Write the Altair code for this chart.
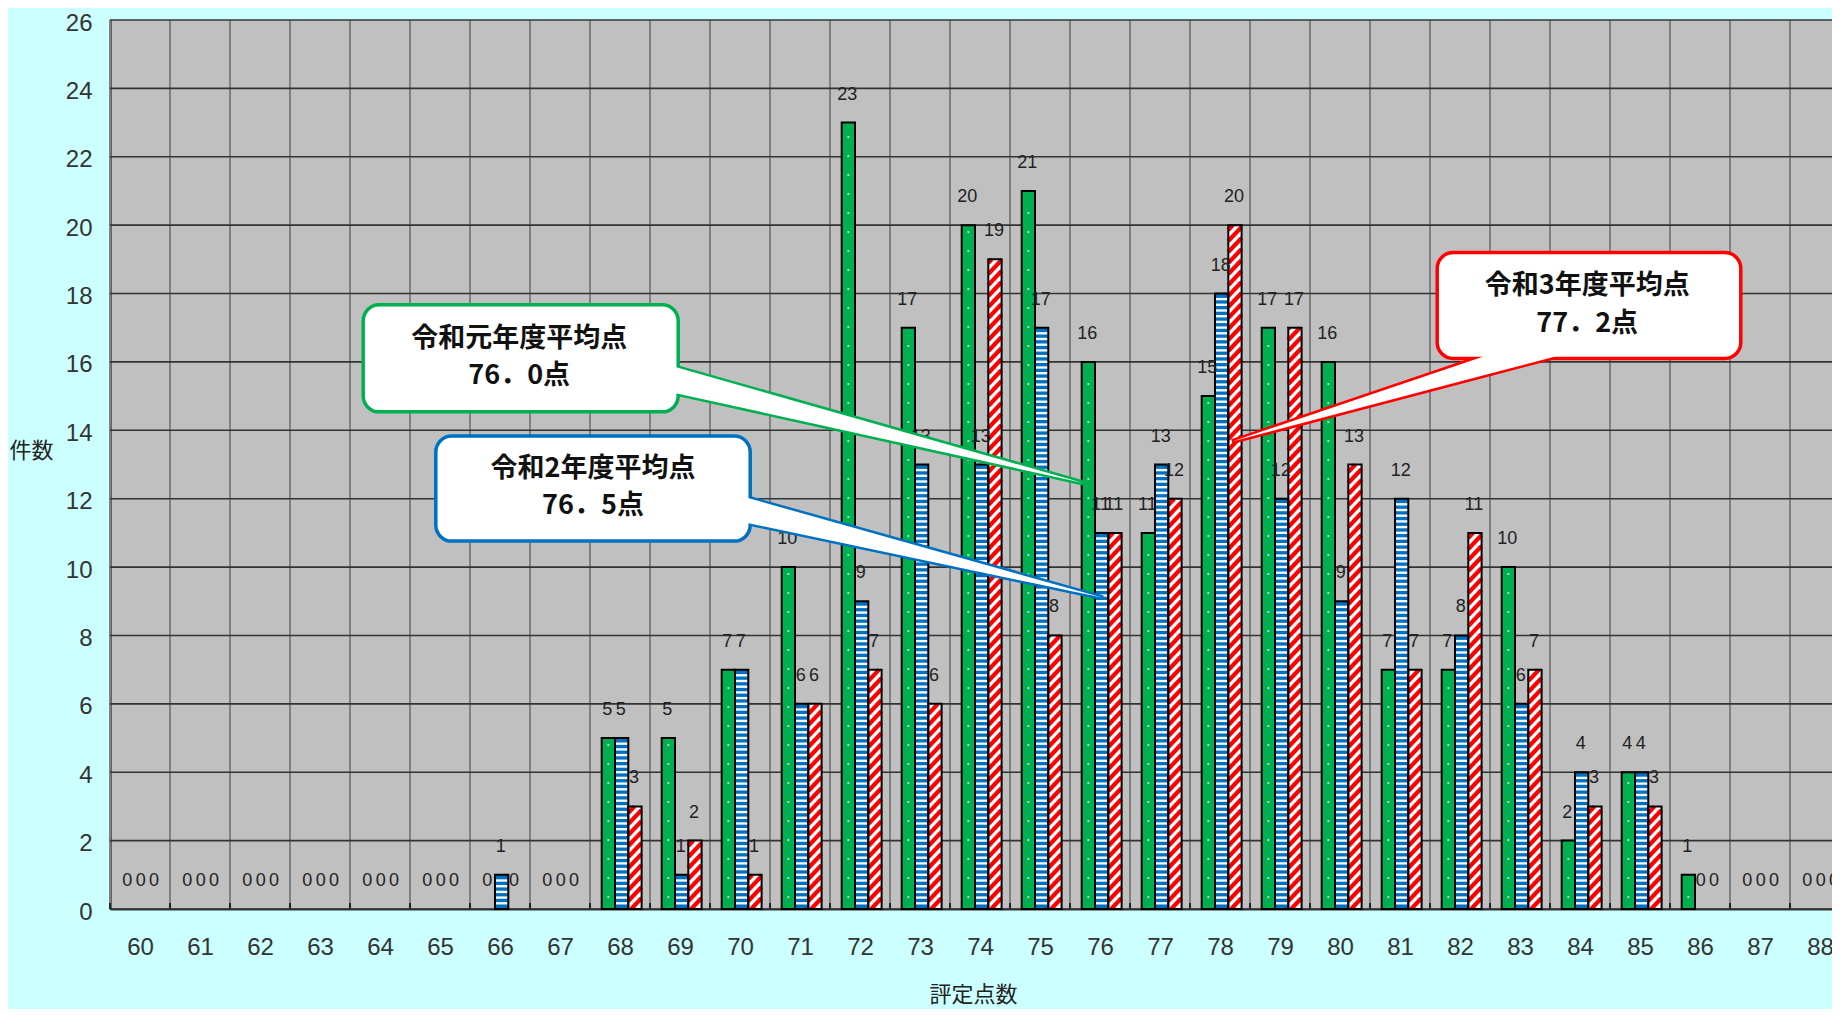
import altair as alt
import pandas as pd

# ---------------- data ----------------
scores = list(range(60, 89))
series_names = ["令和元年度", "令和2年度", "令和3年度"]
r1 = [0, 0, 0, 0, 0, 0, 0, 0, 5, 5, 7, 10, 23, 17, 20, 21, 16, 11, 15, 17, 16, 7, 7, 10, 2, 4, 1, 0, 0]
r2 = [0, 0, 0, 0, 0, 0, 1, 0, 5, 1, 7, 6, 9, 13, 13, 17, 11, 13, 18, 12, 9, 12, 8, 6, 4, 4, 0, 0, 0]
r3 = [0, 0, 0, 0, 0, 0, 0, 0, 3, 2, 1, 6, 7, 6, 19, 8, 11, 12, 20, 17, 13, 7, 11, 7, 3, 3, 0, 0, 0]
y_ticks = list(range(0, 27, 2))

callout_line1 = ["令和元年度平均点", "令和2年度平均点", "令和3年度平均点"]
callout_line2 = ["76．0点", "76．5点", "77．2点"]
# callout geometry in data units (score, count)
box_x0 = [63.72, 64.93, 81.62]
box_x1 = [68.97, 70.17, 86.68]
box_y0 = [14.54, 10.76, 16.10]
box_y1 = [17.67, 13.83, 19.20]
text_x = [66.32, 67.55, 84.12]
text_y1 = [16.66, 12.86, 18.22]
text_y2 = [15.60, 11.80, 17.11]
# pointer triangles: tip, base point A, base point B
tip = [(75.72, 12.46), (76.05, 9.10), (78.20, 13.67)]
base_a = [(68.92, 15.85), (70.13, 12.02), (82.46, 16.20)]
base_b = [(68.92, 15.09), (70.13, 11.29), (83.68, 16.20)]

# ---------------- styles ----------------
GREEN, BLUE, RED = "#00B050", "#0070C0", "#FF0000"
callout_colors = [GREEN, BLUE, RED]
W, H = 1722, 889
X_MIN = 59.5
PX_X = 60.0
X_MAX = X_MIN + W / PX_X
PX_Y = H / 26.0
BAR_W = 13.3 / PX_X
OFFS = [-18.3 / PX_X, -5.0 / PX_X, 8.3 / PX_X]
NUM_FONT = "Liberation Sans Narrow, Liberation Sans, Arimo, sans-serif"
JP_FONT = "Noto Sans CJK JP"

# ---------------- derived tables ----------------
rows = []
for si, vals in enumerate([r1, r2, r3]):
    for s, v in zip(scores, vals):
        x0 = s + OFFS[si]
        rows.append({"score": s, "series": series_names[si], "sid": si, "value": v,
                     "x0": x0, "x1": x0 + BAR_W, "xc": x0 + BAR_W / 2})
bars = pd.DataFrame(rows)
nz = bars[bars.value > 0]

# blue horizontal stripes
bp = 5.7 / PX_Y
blue_rows = []
for _, r in nz[nz.sid == 1].iterrows():
    k = 1
    while k * bp < r.value - 0.05:
        blue_rows.append({"x0": r.x0, "x1": r.x1, "y": k * bp})
        k += 1
blue_df = pd.DataFrame(blue_rows)

# red diagonal stripes, clipped to the bar
rise = 14.0 / PX_Y
rp = 11.0 / PX_Y
red_rows = []
for _, r in nz[nz.sid == 2].iterrows():
    b = -rise
    while b < r.value:
        t0 = max(0.0, (0 - b) / rise)
        t1 = min(1.0, (r.value - b) / rise)
        if t1 > t0:
            red_rows.append({"x0": r.x0 + t0 * (r.x1 - r.x0), "y0": b + t0 * rise,
                             "x1": r.x0 + t1 * (r.x1 - r.x0), "y1": b + t1 * rise})
        b += rp
red_df = pd.DataFrame(red_rows)

# green dots
gp = 19.0 / PX_Y
green_rows = []
for _, r in nz[nz.sid == 0].iterrows():
    y = 0.35
    while y < r.value - 0.15:
        green_rows.append({"x": r.xc, "y": y})
        y += gp
green_df = pd.DataFrame(green_rows)

grid_v = pd.DataFrame({"x": [s - 0.5 for s in scores] + [scores[-1] + 0.5]})
grid_h = pd.DataFrame({"y": y_ticks})


def tri_area(t, a, b, ext=0.0):
    """triangle as an area band (x sorted); ext pushes the base away from the tip (px)"""
    pts = [t, a, b]
    if ext:
        new = [t]
        for p in (a, b):
            dxp = (p[0] - t[0]) * PX_X
            dyp = (p[1] - t[1]) * PX_Y
            L = (dxp ** 2 + dyp ** 2) ** 0.5
            f = 1 + ext / L
            new.append((t[0] + (p[0] - t[0]) * f, t[1] + (p[1] - t[1]) * f))
        pts = new
    tt, aa, bb = pts
    if abs(aa[0] - bb[0]) < 1e-6:
        return [{"x": aa[0], "y": max(aa[1], bb[1]), "y2": min(aa[1], bb[1])},
                {"x": tt[0], "y": tt[1], "y2": tt[1]}]
    v0, v1, v2 = sorted(pts, key=lambda p: p[0])
    ymid = v0[1] + (v2[1] - v0[1]) * (v1[0] - v0[0]) / (v2[0] - v0[0])
    return [{"x": v0[0], "y": v0[1], "y2": v0[1]},
            {"x": v1[0], "y": v1[1], "y2": ymid},
            {"x": v2[0], "y": v2[1], "y2": v2[1]}]


# ---------------- encodings ----------------
XS = alt.Scale(domain=[X_MIN, X_MAX], nice=False, zero=False)
YS = alt.Scale(domain=[0, 26], nice=False, zero=True)
XAX = alt.Axis(values=scores, format="d", grid=False, ticks=False, domain=True,
               domainColor="#333333", domainWidth=2, labelFont=NUM_FONT, labelFontSize=24,
               labelColor="#333333", labelPadding=38, labelBaseline="middle", labelFlush=False,
               labelOverlap=False, title="評定点数", titleFont=JP_FONT, titleFontSize=22,
               titleFontWeight="normal", titleColor="#222222", titleX=863, titleY=85,
               titleBaseline="middle", titleAlign="center")
YAX = alt.Axis(values=y_ticks, grid=False, ticks=False, domain=True, domainColor="#000000",
               domainWidth=2, labelFont=NUM_FONT, labelFontSize=24, labelColor="#333333",
               labelPadding=18, labelOffset=3, labelFlush=False, title="件数", titleAngle=0,
               titleFont=JP_FONT, titleFontSize=22, titleFontWeight="normal", titleColor="#222222",
               titleX=-79, titleY=430, titleAlign="center", titleBaseline="middle")


def X(f):
    return alt.X(f, type="quantitative", scale=XS, axis=XAX)


def Y(f):
    return alt.Y(f, type="quantitative", scale=YS, axis=YAX)


layers = []
layers.append(alt.Chart(grid_v).mark_rule(color="#808080", strokeWidth=2).encode(
    x=X("x"), y=alt.value(0), y2=alt.value(H)))
layers.append(alt.Chart(grid_v).mark_rule(color="#222222", strokeWidth=2).encode(
    x=X("x"), y=alt.value(H), y2=alt.value(H - 6)))
layers.append(alt.Chart(grid_h).mark_rule(color="#333333", strokeWidth=1.6).encode(
    y=Y("y"), x=alt.value(0), x2=alt.value(W)))

layers.append(alt.Chart(nz).mark_rect().encode(
    x=X("x0"), x2="x1", y=Y("value"), y2=alt.datum(0),
    fill=alt.Fill("series:N", scale=alt.Scale(domain=series_names, range=[GREEN, BLUE, "#FFFFFF"]),
                  legend=None)))
layers.append(alt.Chart(blue_df).mark_rule(color="#FFFFFF", strokeWidth=2.4, opacity=0.95).encode(
    x=X("x0"), x2="x1", y=Y("y")))
layers.append(alt.Chart(red_df).mark_rule(color=RED, strokeWidth=4.2, strokeCap="butt").encode(
    x=X("x0"), x2="x1", y=Y("y0"), y2="y1"))
layers.append(alt.Chart(green_df).mark_square(color="#C8F0D8", size=4, opacity=0.8).encode(
    x=X("x"), y=Y("y")))
layers.append(alt.Chart(nz).mark_rect(fillOpacity=0, stroke="#000000", strokeWidth=2).encode(
    x=X("x0"), x2="x1", y=Y("value"), y2=alt.datum(0)))
layers.append(alt.Chart(bars).mark_text(font=NUM_FONT, fontSize=18, color="#222222",
                                        baseline="alphabetic", dy=-23, dx=-1).encode(
    x=X("xc"), y=Y("value"), text="value:Q"))

for i in range(3):
    col = callout_colors[i]
    tri = pd.DataFrame(tri_area(tip[i], base_a[i], base_b[i]))
    tri_ext = pd.DataFrame(tri_area(tip[i], base_a[i], base_b[i], ext=9.0))
    box = pd.DataFrame({"x0": [box_x0[i]], "x1": [box_x1[i]], "y0": [box_y0[i]], "y1": [box_y1[i]]})
    txt = pd.DataFrame({"x": [text_x[i], text_x[i]], "y": [text_y1[i], text_y2[i]],
                        "t": [callout_line1[i], callout_line2[i]]})
    layers.append(alt.Chart(tri).mark_area(fill="#FFFFFF", stroke=col, strokeWidth=5,
                                           strokeJoin="miter", interpolate="linear").encode(
        x=X("x"), y=Y("y"), y2="y2"))
    layers.append(alt.Chart(box).mark_rect(fill="#FFFFFF", stroke=col, strokeWidth=3.5,
                                           cornerRadius=16).encode(
        x=X("x0"), x2="x1", y=Y("y0"), y2="y1"))
    layers.append(alt.Chart(tri_ext).mark_area(fill="#FFFFFF", interpolate="linear").encode(
        x=X("x"), y=Y("y"), y2="y2"))
    layers.append(alt.Chart(txt).mark_text(font=JP_FONT, fontSize=27, fontWeight="bold",
                                           color="#111111", baseline="middle", align="center").encode(
        x=X("x"), y=Y("y"), text="t:N"))

chart = alt.layer(*layers).properties(
    width=W, height=H, background="#CCFFFF",
    autosize=alt.AutoSizeParams(type="none"),
    padding={"left": 102, "top": 12, "right": 0, "bottom": 100},
).configure_view(fill="#C0C0C0", stroke="transparent")

chart.save("out.html", embed_options={"renderer": "svg", "actions": False})
